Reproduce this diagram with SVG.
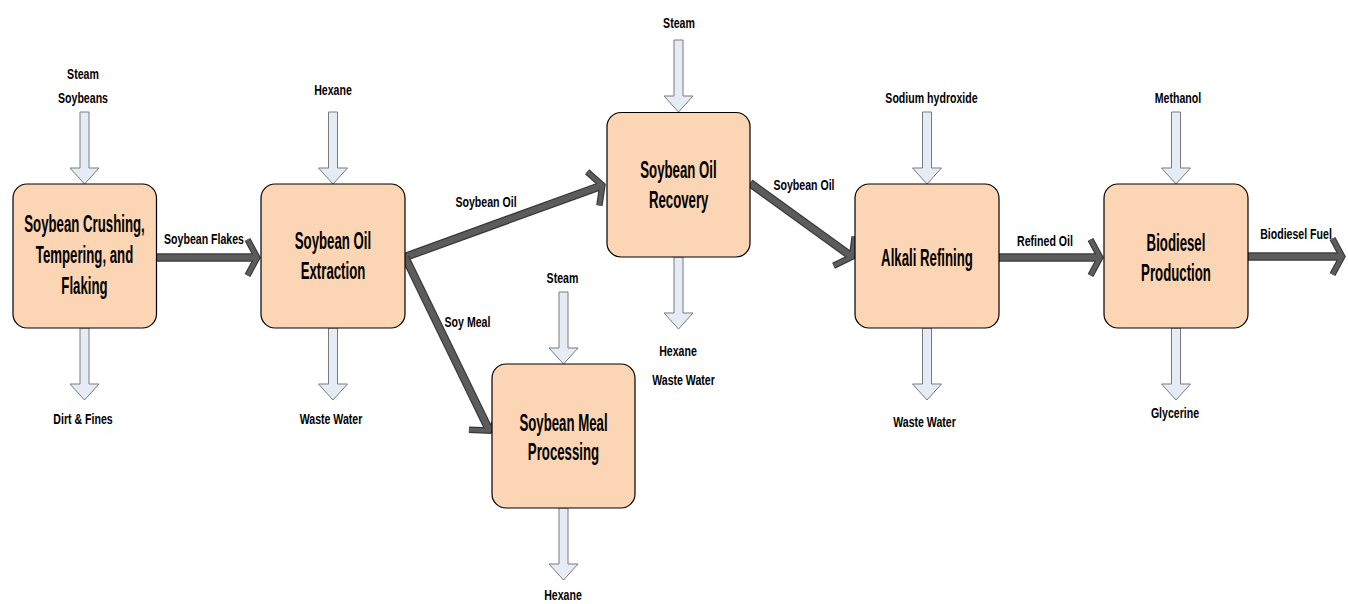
<svg xmlns="http://www.w3.org/2000/svg" xmlns:xlink="http://www.w3.org/1999/xlink" width="1348" height="604" viewBox="0 0 1348 604">
  <style>
    text { font-family: "Liberation Sans", Arial, sans-serif; font-weight: bold; fill: #000; text-anchor: middle; transform-box: fill-box; transform-origin: center; }
    .box { fill: #FCD5B4; stroke: #000; stroke-width: 1.2; }
    .bt { font-size: 23px; transform: scaleX(0.575); }
    .lb { font-size: 14.5px; transform: scaleX(0.73); }
    .ba { fill: #E6ECF6; stroke: #7a7a7a; stroke-width: 1; }
    .flowo { fill: none; stroke: #3a3a3a; stroke-width: 8.5; marker-end: url(#cho); }
    .flowi { fill: none; stroke: #5c5c5c; stroke-width: 6; marker-end: url(#chi); }
  </style>
  <defs>
    <marker id="cho" markerUnits="userSpaceOnUse" markerWidth="40" markerHeight="50" refX="-4" refY="0" orient="auto" overflow="visible">
      <path d="M -13.5,-18 L -3.8,0 L -13.5,18" fill="none" stroke="#3a3a3a" stroke-width="6.5" stroke-linejoin="miter"/>
    </marker>
    <marker id="chi" markerUnits="userSpaceOnUse" markerWidth="40" markerHeight="50" refX="-4" refY="0" orient="auto" overflow="visible">
      <path d="M -13.5,-18 L -3.8,0 L -13.5,18" fill="none" stroke="#5c5c5c" stroke-width="4.2" stroke-linejoin="miter"/>
    </marker>
    <polygon id="barrow" points="-4.5,0 4.5,0 4.5,56 14.5,56 0,72 -14.5,56 -4.5,56"/>
  </defs>

  <g id="connectors">
    <path class="flowo" d="M157,257.5 L257,257.5"/>
    <path class="flowi" d="M157,257.5 L257,257.5"/>
    <path class="flowo" d="M405,257 L602.2,185.4"/>
    <path class="flowi" d="M405,257 L602.2,185.4"/>
    <path class="flowo" d="M405,257 L489.3,430.4"/>
    <path class="flowi" d="M405,257 L489.3,430.4"/>
    <path class="flowo" d="M750,183 L851.8,256.7"/>
    <path class="flowi" d="M750,183 L851.8,256.7"/>
    <path class="flowo" d="M999,257.5 L1100,257.5"/>
    <path class="flowi" d="M999,257.5 L1100,257.5"/>
    <path class="flowo" d="M1248,256.5 L1342,256.5"/>
    <path class="flowi" d="M1248,256.5 L1342,256.5"/>
    <text class="lb" x="204" y="244">Soybean Flakes</text>
    <text class="lb" x="486" y="207.5">Soybean Oil</text>
    <text class="lb" x="467.5" y="327.5">Soy Meal</text>
    <text class="lb" x="804" y="190.5">Soybean Oil</text>
    <text class="lb" x="1045" y="246">Refined Oil</text>
    <text class="lb" x="1296" y="239">Biodiesel Fuel</text>
  </g>

  <g id="streams">
    <use class="ba" href="#barrow" x="84.5" y="112"/>
    <use class="ba" href="#barrow" x="84.5" y="328"/>
    <use class="ba" href="#barrow" x="333" y="112"/>
    <use class="ba" href="#barrow" x="333" y="328"/>
    <use class="ba" href="#barrow" x="678.5" y="40"/>
    <use class="ba" href="#barrow" x="678.5" y="257"/>
    <use class="ba" href="#barrow" x="563.5" y="292"/>
    <use class="ba" href="#barrow" x="563.5" y="508"/>
    <use class="ba" href="#barrow" x="927" y="112"/>
    <use class="ba" href="#barrow" x="927" y="328"/>
    <use class="ba" href="#barrow" x="1176" y="112"/>
    <use class="ba" href="#barrow" x="1176" y="328"/>
    <text class="lb" x="83" y="79.5">Steam</text>
    <text class="lb" x="83" y="103.5">Soybeans</text>
    <text class="lb" x="83" y="424">Dirt &amp; Fines</text>
    <text class="lb" x="333" y="95.5">Hexane</text>
    <text class="lb" x="331" y="424">Waste Water</text>
    <text class="lb" x="679" y="28.5">Steam</text>
    <text class="lb" x="678" y="356">Hexane</text>
    <text class="lb" x="683.5" y="385">Waste Water</text>
    <text class="lb" x="562.5" y="283.5">Steam</text>
    <text class="lb" x="563" y="600.5">Hexane</text>
    <text class="lb" x="931.5" y="103.5">Sodium hydroxide</text>
    <text class="lb" x="924.5" y="427.5">Waste Water</text>
    <text class="lb" x="1178" y="103.5">Methanol</text>
    <text class="lb" x="1175" y="418.5">Glycerine</text>
  </g>

  <g id="crushing">
    <rect class="box" x="13" y="184" width="143.5" height="144" rx="14"/>
    <text class="bt" x="84.5" y="232">Soybean Crushing,</text>
    <text class="bt" x="84.5" y="263">Tempering, and</text>
    <text class="bt" x="84.5" y="294">Flaking</text>
  </g>
  <g id="extraction">
    <rect class="box" x="261" y="184" width="144" height="144" rx="14"/>
    <text class="bt" x="333" y="249.5">Soybean Oil</text>
    <text class="bt" x="333" y="279.5">Extraction</text>
  </g>
  <g id="recovery">
    <rect class="box" x="607" y="112.5" width="143" height="144.5" rx="14"/>
    <text class="bt" x="678.5" y="178.5">Soybean Oil</text>
    <text class="bt" x="678.5" y="208.5">Recovery</text>
  </g>
  <g id="meal">
    <rect class="box" x="492" y="364" width="143" height="144" rx="14"/>
    <text class="bt" x="563.5" y="431.5">Soybean Meal</text>
    <text class="bt" x="563.5" y="460.5">Processing</text>
  </g>
  <g id="alkali">
    <rect class="box" x="855" y="184" width="144" height="144" rx="14"/>
    <text class="bt" x="927" y="266.5">Alkali Refining</text>
  </g>
  <g id="biodiesel">
    <rect class="box" x="1104" y="184" width="144" height="144" rx="14"/>
    <text class="bt" x="1176" y="251.5">Biodiesel</text>
    <text class="bt" x="1176" y="281.5">Production</text>
  </g>
</svg>
